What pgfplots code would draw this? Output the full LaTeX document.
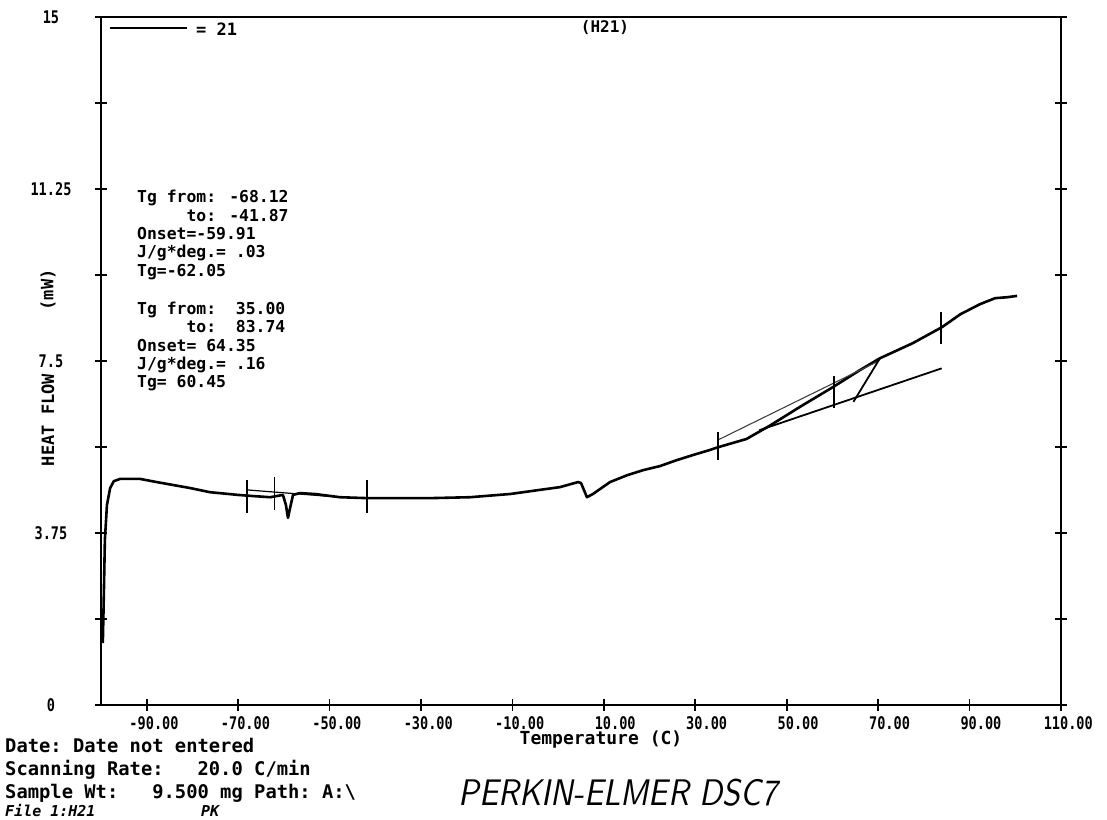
\documentclass[border=0pt]{standalone}
\usepackage{fontspec}
\usepackage{pgfplots}
\pgfplotsset{compat=1.18}
\setmainfont{DejaVu Sans Mono}
\newfontfamily\monof{DejaVu Sans Mono}
\newfontfamily\tickf{DejaVu Sans Mono Bold}[FakeStretch=0.78]
\newfontfamily\brandf{lmsans10-oblique.otf}[FakeStretch=0.87]
\begin{document}
\begin{tikzpicture}
\useasboundingbox (0,0) rectangle (1107bp,820bp);
\begin{axis}[
  at={(101bp,115bp)}, anchor=south west,
  scale only axis, width=960bp, height=688bp,
  xmin=-100, xmax=110, ymin=0, ymax=15,
  axis line style={line width=1.8bp},
  every tick/.style={black, line width=1.8bp},
  major tick length=12bp, tick align=center,
  xtick={-90,-70,-50,-30,-10,10,30,50,70,90,110},
  xticklabels={-90.00,-70.00,-50.00,-30.00,-10.00,10.00,30.00,50.00,70.00,90.00,110.00},
  ytick={0,1.875,3.75,5.625,7.5,9.375,11.25,13.125,15},
  yticklabels={0,,3.75,,7.5,,11.25,,15},
  xtick pos=left, ytick pos=both, yticklabel pos=left,
  ticklabel style={font=\tickf\fontsize{17.4bp}{17.4bp}\selectfont, inner sep=0pt},
  xticklabel style={anchor=north east, xshift=32bp, yshift=-5bp},
  yticklabel style={anchor=center, xshift=-44bp},
  clip=false,
]
% DSC curve
\addplot[black, line width=2.6bp, line join=round] coordinates {
(-99.60,1.35) (-99.40,2.30) (-99.15,3.60) (-98.70,4.36) (-98.00,4.73) (-97.20,4.88)
(-95.80,4.93) (-91.50,4.93) (-87.80,4.86) (-80.50,4.73) (-76.20,4.64) (-70.00,4.58)
(-67.40,4.56) (-63.00,4.53) (-60.20,4.58) (-59.55,4.36) (-59.10,4.08) (-58.65,4.29)
(-58.00,4.58) (-56.50,4.62) (-53.20,4.60) (-47.70,4.53) (-41.80,4.51) (-34.60,4.51)
(-28.00,4.51) (-19.30,4.53) (-10.50,4.60) (-4.00,4.69) (0.40,4.75) (4.35,4.86)
(5.00,4.84) (6.30,4.53) (7.60,4.60) (11.35,4.86) (15.10,5.01) (18.60,5.12)
(22.30,5.21) (26.00,5.34) (29.50,5.45) (33.20,5.56) (35.00,5.62) (41.20,5.80)
(46.30,6.09) (52.90,6.50) (60.10,6.93) (66.00,7.30) (70.40,7.56) (77.60,7.89)
(84.00,8.24) (88.00,8.52) (92.30,8.74) (95.60,8.87) (98.20,8.89) (100.40,8.92)
};
% first Tg construction
\addplot[black, line width=1.2bp] coordinates {(-68.12,4.69) (-49.0,4.54)};
\addplot[black, line width=1.8bp] coordinates {(-68.12,4.19) (-68.12,4.91)};
\addplot[black, line width=1.8bp] coordinates {(-62.05,4.25) (-62.05,4.97)};
\addplot[black, line width=1.8bp] coordinates {(-41.87,4.19) (-41.87,4.91)};
% second Tg construction
\addplot[black!75, line width=1.1bp] coordinates {(35.00,5.78) (69.70,7.48)};
\addplot[black, line width=1.8bp] coordinates {(44.00,5.99) (83.90,7.34)};
\addplot[black, line width=1.8bp] coordinates {(64.60,6.61) (70.40,7.56)};
\addplot[black, line width=2bp] coordinates {(35.00,5.34) (35.00,5.96)};
\addplot[black, line width=2bp] coordinates {(60.45,6.47) (60.45,7.17)};
\addplot[black, line width=2bp] coordinates {(83.74,7.86) (83.74,8.57)};
\end{axis}
\begin{scope}[x=1bp, y=-1bp, yshift=820bp]
  \draw[line width=1.8bp] (110,28) -- (187,28);
  \node[anchor=west, inner sep=0pt, font=\monof\bfseries\fontsize{17bp}{17bp}\selectfont] at (196,29) {= 21};
  \node[inner sep=0pt, font=\monof\bfseries\fontsize{16bp}{16bp}\selectfont] at (605,27) {(H21)};
  \begin{scope}[every node/.style={anchor=base west, inner sep=0pt, font=\monof\bfseries\fontsize{16.4bp}{16.4bp}\selectfont}]
    \node at (137,203) {Tg from: -68.12};
    \node at (137,222) {\hphantom{Tg fr}to: -41.87};
    \node at (137,240) {Onset=-59.91};
    \node at (137,258) {J/g*deg.= .03};
    \node at (137,277) {Tg=-62.05};
    \node at (137,315) {Tg from:\hphantom{00}35.00};
    \node at (137,333) {\hphantom{Tg fr}to:\hphantom{00}83.74};
    \node at (137,352) {Onset= 64.35};
    \node at (137,370) {J/g*deg.= .16};
    \node at (137,388) {Tg= 60.45};
  \end{scope}
  \node[rotate=90, inner sep=0pt, font=\monof\bfseries\fontsize{17bp}{17bp}\selectfont] at (48,420) {HEAT FLOW};
  \node[rotate=90, inner sep=0pt, font=\monof\bfseries\fontsize{17bp}{17bp}\selectfont] at (48,290) {(mW)};
  \node[inner sep=0pt, font=\monof\bfseries\fontsize{18bp}{18bp}\selectfont] at (601,740) {Temperature (C)};
  \begin{scope}[every node/.style={anchor=base west, inner sep=0pt, font=\monof\bfseries\fontsize{18.8bp}{18.8bp}\selectfont}]
    \node at (5,753) {Date:\hphantom{0}Date not entered};
    \node at (5,776) {Scanning Rate:\hphantom{000}20.0 C/min};
    \node at (5,799) {Sample Wt:\hphantom{000}9.500 mg Path:\hphantom{0}A:\textbackslash};
  \end{scope}
  \node[anchor=base west, inner sep=0pt, font=\monof\bfseries\itshape\fontsize{15bp}{15bp}\selectfont] at (5,817) {File 1:H21};
  \node[anchor=base west, inner sep=0pt, font=\monof\bfseries\itshape\fontsize{15bp}{15bp}\selectfont] at (201,817) {PK};
  \node[inner sep=0pt, font=\brandf\fontsize{37bp}{37bp}\selectfont] at (618,793) {PERKIN-ELMER DSC7};
\end{scope}
\end{tikzpicture}
\end{document}
